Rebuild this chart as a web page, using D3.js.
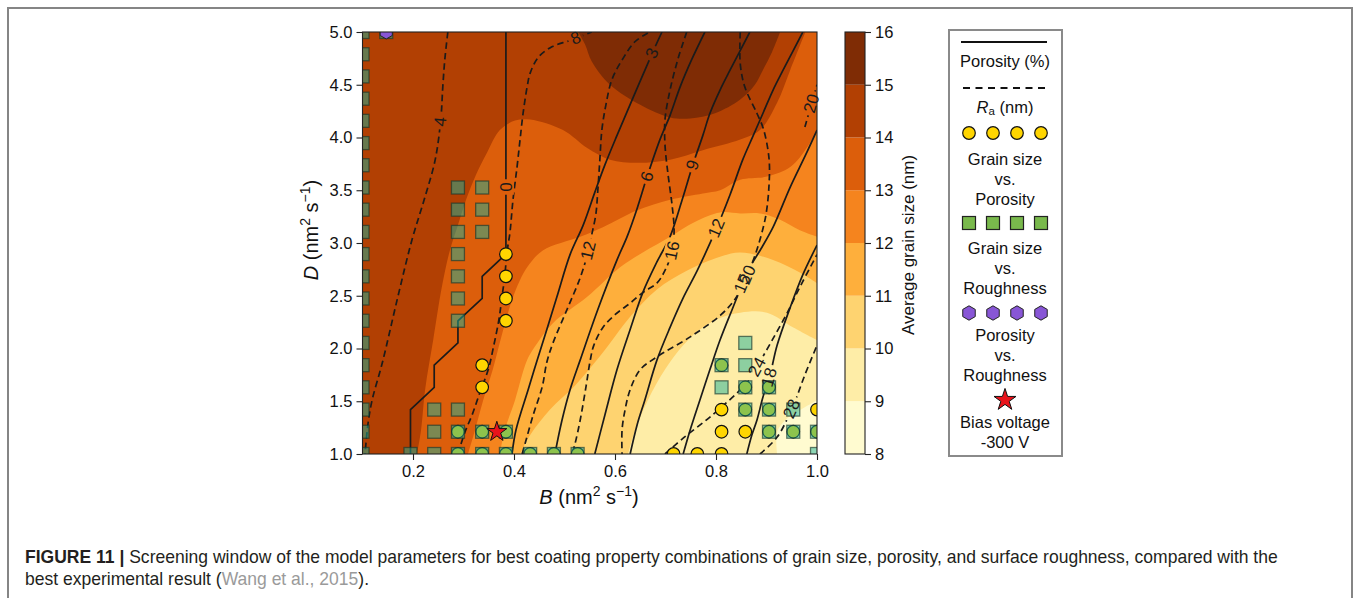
<!DOCTYPE html>
<html><head><meta charset="utf-8">
<script src="https://cdn.jsdelivr.net/npm/d3@7"></script>
<style>
body{margin:0;background:#fff;}
svg{display:block;}
text{font-family:"Liberation Sans",Arial,Helvetica,sans-serif;}
</style>
</head><body>
<svg id="chart" width="1354" height="598"></svg>
<script>
// ---------------- DATA ----------------
const xTicks = [0.2, 0.4, 0.6, 0.8, 1.0];
const yTicks = [1.0, 1.5, 2.0, 2.5, 3.0, 3.5, 4.0, 4.5, 5.0];
const grainLevels = [8, 9, 10, 11, 12, 13, 14, 15, 16];
const grainColors = ["#FFFBD0", "#FEEDA7", "#FED370", "#FEAF3C", "#F5841E", "#DC5E0B", "#B24003", "#7F2C05"];

// boundaries of the filled grain-size regions (value >= level lies to the upper-left)
const grain9  = [[0.921,1.0],[0.921,1.21],[0.937,1.32],[0.961,1.40],[1.0,1.51]];
const grain10 = [[0.626,1.0],[0.640,1.23],[0.665,1.51],[0.699,1.80],[0.735,2.03],[0.768,2.18],[0.808,2.29],[0.848,2.34],[0.901,2.34],[0.953,2.20],[1.0,2.08]];
const grain11 = [[0.412,1.0],[0.432,1.18],[0.471,1.42],[0.521,1.65],[0.564,1.89],[0.590,2.05],[0.630,2.30],[0.683,2.56],[0.743,2.74],[0.808,2.87],[0.848,2.91],[0.913,2.84],[0.966,2.72],[1.0,2.62]];
const grain12 = [[0.372,1.0],[0.382,1.23],[0.402,1.51],[0.426,1.89],[0.446,2.05],[0.477,2.24],[0.545,2.49],[0.610,2.77],[0.655,2.91],[0.709,3.06],[0.758,3.20],[0.808,3.29],[0.848,3.28],[0.887,3.28],[0.927,3.22],[0.966,3.12],[1.0,3.06]];
const grain13 = [[0.309,1.0],[0.323,1.23],[0.339,1.51],[0.358,1.80],[0.376,2.13],[0.396,2.46],[0.412,2.65],[0.426,2.77],[0.457,2.93],[0.531,3.06],[0.576,3.15],[0.644,3.31],[0.709,3.41],[0.774,3.47],[0.808,3.50],[0.848,3.60],[0.901,3.63],[0.947,3.72],[0.981,3.91],[1.0,4.07]];
const grain14 = [[0.208,1.0],[0.216,1.23],[0.224,1.61],[0.240,2.08],[0.257,2.58],[0.273,2.93],[0.289,3.17],[0.305,3.41],[0.325,3.65],[0.347,3.86],[0.372,4.07],[0.402,4.16],[0.432,4.17],[0.497,4.07],[0.545,3.90],[0.590,3.79],[0.644,3.76],[0.709,3.79],[0.774,3.88],[0.848,3.98],[0.887,4.07],[0.921,4.33],[0.947,4.64],[0.977,5.0]];
const grain15 = [[0.527,5.0],[0.541,4.88],[0.554,4.72],[0.590,4.50],[0.650,4.31],[0.709,4.19],[0.749,4.18],[0.798,4.23],[0.848,4.36],[0.877,4.50],[0.893,4.64],[0.911,4.81],[0.927,5.0]];

// porosity (%) contour lines (solid)
const porosity0  = [[0.384,5.0],[0.384,2.895],[0.337,2.684],[0.337,2.474],[0.289,2.263],[0.289,2.053],[0.242,1.842],[0.242,1.632],[0.195,1.421],[0.195,1.0]];
const porosity3  = [[0.396,1.0],[0.404,1.23],[0.428,1.61],[0.446,1.89],[0.465,2.18],[0.485,2.49],[0.511,2.89],[0.537,3.17],[0.560,3.48],[0.580,3.74],[0.604,4.02],[0.636,4.38],[0.673,4.79],[0.693,5.0]];
const porosity6  = [[0.481,1.0],[0.495,1.32],[0.511,1.61],[0.531,1.89],[0.566,2.37],[0.604,2.84],[0.624,3.06],[0.644,3.33],[0.663,3.62],[0.689,3.98],[0.709,4.21],[0.729,4.48],[0.752,4.74],[0.778,5.0]];
const porosity9  = [[0.560,1.0],[0.580,1.37],[0.604,1.80],[0.630,2.18],[0.655,2.53],[0.683,2.82],[0.709,3.06],[0.733,3.41],[0.754,3.74],[0.774,4.02],[0.788,4.23],[0.808,4.45],[0.828,4.64],[0.867,5.0]];
const porosity12 = [[0.630,1.0],[0.644,1.28],[0.659,1.51],[0.683,1.89],[0.709,2.20],[0.735,2.48],[0.763,2.74],[0.802,3.15],[0.828,3.46],[0.853,3.79],[0.873,4.01],[0.893,4.23],[0.913,4.45],[0.933,4.64],[0.972,5.0]];
const porosity15 = [[0.735,1.0],[0.749,1.23],[0.768,1.51],[0.788,1.80],[0.808,2.08],[0.832,2.37],[0.853,2.62],[0.867,2.77],[0.891,2.96],[0.913,3.15],[0.947,3.53],[0.977,3.83],[1.0,4.07]];
const porosity18 = [[0.861,1.0],[0.871,1.18],[0.881,1.32],[0.893,1.54],[0.907,1.75],[0.921,2.03],[0.947,2.39],[0.972,2.70],[1.0,2.98]];
const porosityValues = [0, 3, 6, 9, 12, 15, 18];
const porosityLabelAt = [[0.386,3.53],[0.673,4.80],[0.665,3.63],[0.754,3.74],[0.802,3.14],[0.851,2.62],[0.911,1.72]];

// Ra (nm) contour lines (dashed)
const ra4   = [[0.269,5.0],[0.263,4.74],[0.259,4.48],[0.255,4.17],[0.244,3.79],[0.224,3.44],[0.198,3.03],[0.170,2.49],[0.139,1.86],[0.119,1.51],[0.111,1.29],[0.105,1.0]];
const ra8   = [[0.289,1.0],[0.303,1.21],[0.317,1.37],[0.333,1.59],[0.349,1.80],[0.360,2.03],[0.370,2.27],[0.376,2.48],[0.382,2.70],[0.386,2.91],[0.392,3.10],[0.398,3.41],[0.406,3.72],[0.412,3.98],[0.418,4.23],[0.426,4.48],[0.432,4.61],[0.448,4.76],[0.475,4.86],[0.511,4.92],[0.554,5.0]];
const ra12  = [[0.416,1.0],[0.422,1.10],[0.438,1.37],[0.456,1.64],[0.465,1.87],[0.477,2.05],[0.505,2.37],[0.531,2.67],[0.547,2.92],[0.554,3.08],[0.562,3.27],[0.566,3.50],[0.570,3.79],[0.574,4.07],[0.582,4.31],[0.594,4.55],[0.616,4.75],[0.640,4.91],[0.669,5.0]];
const ra16  = [[0.742,5.0],[0.725,4.75],[0.709,4.45],[0.699,4.17],[0.699,3.93],[0.705,3.65],[0.713,3.36],[0.717,3.12],[0.713,2.92],[0.699,2.74],[0.683,2.62],[0.655,2.53],[0.630,2.43],[0.600,2.32],[0.576,2.20],[0.558,2.03],[0.551,1.89],[0.543,1.65],[0.531,1.32],[0.521,1.10],[0.515,1.0]];
const ra20  = [[0.848,5.0],[0.848,4.70],[0.857,4.48],[0.881,4.23],[0.894,4.08],[0.905,3.80],[0.905,3.55],[0.899,3.27],[0.887,3.03],[0.871,2.80],[0.855,2.62],[0.838,2.47],[0.810,2.32],[0.749,2.11],[0.683,1.92],[0.650,1.80],[0.630,1.61],[0.620,1.42],[0.614,1.23],[0.614,1.0]];
const ra20b = [[0.976,4.10],[0.988,4.30],[1.0,4.50]];
const ra24  = [[0.699,1.0],[0.735,1.15],[0.788,1.35],[0.844,1.59],[0.869,1.72],[0.883,1.84],[0.909,2.06],[0.939,2.32],[0.968,2.60],[1.0,2.89]];
const ra28  = [[0.887,1.0],[0.921,1.16],[0.953,1.46],[0.976,1.75],[1.0,2.03]];
const raValues = [4, 8, 12, 16, 20, 20, 24, 28];
const raLabelAt = [[0.255,4.15],[0.523,4.93],[0.547,2.93],[0.713,2.93],[0.861,2.70],[0.990,4.32],[0.883,1.82],[0.953,1.42]];

// screening points on the simulation grid (indices into gridB / gridD)
const gridB = [0.100,0.147,0.195,0.242,0.289,0.337,0.384,0.432,0.479,0.526,0.574,0.621,0.668,0.716,0.763,0.811,0.858,0.905,0.953,1.000];
const gridD = [1.000,1.211,1.421,1.632,1.842,2.053,2.263,2.474,2.684,2.895,3.105,3.316,3.526,3.737,3.947,4.158,4.368,4.579,4.789,5.000];
const grainPorosityPts = [[6,9],[6,8],[6,7],[6,6],[5,4],[5,3],[4,1],[5,1],[6,1],[4,0],[5,0],[6,0],[7,0],[8,0],[9,0],
  [15,4],[16,3],[17,3],[15,2],[16,2],[17,2],[19,2],[15,1],[16,1],[17,1],[18,1],[19,1],[13,0],[14,0],[15,0]];
const grainRoughnessPts = [[0,0],[0,1],[0,2],[0,3],[0,4],[0,5],[0,6],[0,7],[0,8],[0,9],[0,10],[0,11],[0,12],[0,13],[0,14],[0,15],[0,16],[0,17],[0,18],[0,19],
  [1,19],[4,12],[5,12],[4,11],[5,11],[4,10],[5,10],[4,9],[4,8],[4,7],[4,6],[3,2],[4,2],[3,1],[4,1],[5,1],[6,1],
  [2,0],[3,0],[4,0],[5,0],[6,0],[7,0],[8,0],[9,0],
  [16,5],[15,4],[16,4],[15,3],[16,3],[17,3],[16,2],[17,2],[18,2],[17,1],[18,1],[19,1],[19,0]];
const porosityRoughnessPts = [[1,19]];
const biasVoltage = [0.366, 1.21];

const legendLabels = ["Porosity (%)", "Grain size", "vs.", "Porosity", "Grain size", "vs.", "Roughness", "Porosity", "vs.", "Roughness", "Bias voltage", "-300 V"];

// ---------------- DRAW ----------------
const svg = d3.select("#chart");
const defs = svg.append("defs");
const x = d3.scaleLinear().domain([0.1, 1.0]).range([362.5, 817]);
const y = d3.scaleLinear().domain([1.0, 5.0]).range([454, 32]);
const P = {l: 362.5, r: 817, t: 32, b: 454};
const font = '"Liberation Sans",Arial,Helvetica,sans-serif';

// outer frame
svg.append("path").attr("d", "M8,600V8H1352V600").attr("fill", "none").attr("stroke", "#858585").attr("stroke-width", 2);

defs.append("clipPath").attr("id", "plotClip").append("rect")
  .attr("x", P.l).attr("y", P.t).attr("width", P.r - P.l).attr("height", P.b - P.t);

const plot = svg.append("g").attr("clip-path", "url(#plotClip)");

// filled grain size contours
plot.append("rect").attr("x", P.l).attr("y", P.t).attr("width", P.r - P.l).attr("height", P.b - P.t).attr("fill", grainColors[0]);
const smooth = d3.line().x(d => x(d[0])).y(d => y(d[1])).curve(d3.curveCatmullRom.alpha(0.5));
const straight = d3.line().x(d => x(d[0])).y(d => y(d[1]));
const grainBoundaries = [grain9, grain10, grain11, grain12, grain13, grain14, grain15];
grainBoundaries.forEach((b, k) => {
  let s = smooth(b);
  const first = b[0], last = b[b.length - 1];
  if (first[1] === 5.0 && last[1] === 5.0) {
    s += "Z";
  } else {
    if (last[0] >= 1.0) s += `L${x(1.0)},${y(5.0)}`;
    s += `L${x(0.1)},${y(5.0)}L${x(0.1)},${y(1.0)}Z`;
  }
  plot.append("path").attr("d", s).attr("fill", grainColors[k + 1]).attr("stroke", "none");
});

// contour lines with label gaps
const mask = defs.append("mask").attr("id", "lblMask").attr("maskUnits", "userSpaceOnUse")
  .attr("x", 0).attr("y", 0).attr("width", 1354).attr("height", 598);
mask.append("rect").attr("x", 0).attr("y", 0).attr("width", 1354).attr("height", 598).attr("fill", "#fff");
const lineG = plot.append("g").attr("mask", "url(#lblMask)");
const labelG = svg.append("g");

const porosityLines = [porosity0, porosity3, porosity6, porosity9, porosity12, porosity15, porosity18];
const raLines = [ra4, ra8, ra12, ra16, ra20, ra20b, ra24, ra28];

function drawContour(pts, dashed, lin, value, at) {
  const path = lineG.append("path")
    .attr("d", (lin ? straight : smooth)(pts))
    .attr("fill", "none").attr("stroke", "#1b1b1b").attr("stroke-width", 1.7)
    .attr("stroke-dasharray", dashed ? "6.5,4" : null);
  const node = path.node();
  const L = node.getTotalLength();
  const tx = x(at[0]), ty = y(at[1]);
  let best = 0, bd = Infinity;
  for (let l = 0; l <= L; l += 0.5) {
    const p = node.getPointAtLength(l);
    const d = (p.x - tx) ** 2 + (p.y - ty) ** 2;
    if (d < bd) { bd = d; best = l; }
  }
  const p = node.getPointAtLength(best);
  const p1 = node.getPointAtLength(Math.max(0, best - 6));
  const p2 = node.getPointAtLength(Math.min(L, best + 6));
  let ang = Math.atan2(p2.y - p1.y, p2.x - p1.x) * 180 / Math.PI;
  if (ang > 90) ang -= 180;
  if (ang <= -90) ang += 180;
  const t = labelG.append("text")
    .attr("transform", `translate(${p.x},${p.y}) rotate(${ang})`)
    .attr("text-anchor", "middle").attr("dominant-baseline", "central")
    .attr("font-size", 17).attr("fill", "#1b1b1b").text(value);
  const w = t.node().getComputedTextLength() + 6;
  mask.append("rect").attr("x", -w / 2).attr("y", -8).attr("width", w).attr("height", 16)
    .attr("transform", `translate(${p.x},${p.y}) rotate(${ang})`).attr("fill", "#000");
}
porosityLines.forEach((l, i) => drawContour(l, false, i === 0, porosityValues[i], porosityLabelAt[i]));
raLines.forEach((l, i) => drawContour(l, true, false, raValues[i], raLabelAt[i]));

// markers
const markG = plot.append("g");
const circleFill = "#FFD500", squareFill = "rgba(28,177,153,0.5)", squareStroke = "rgba(25,55,45,0.65)";
markG.selectAll("circle.gp").data(grainPorosityPts).join("circle").attr("class", "gp")
  .attr("cx", d => x(gridB[d[0]])).attr("cy", d => y(gridD[d[1]])).attr("r", 6.3)
  .attr("fill", circleFill).attr("stroke", "#111").attr("stroke-width", 1.2);
markG.selectAll("rect.gr").data(grainRoughnessPts).join("rect").attr("class", "gr")
  .attr("x", d => x(gridB[d[0]]) - 6.5).attr("y", d => y(gridD[d[1]]) - 6.5).attr("width", 13).attr("height", 13)
  .attr("fill", squareFill).attr("stroke", squareStroke).attr("stroke-width", 1.3);
function hexPath(cx, cy, r) {
  const pts = d3.range(6).map(k => { const a = (-90 + 60 * k) * Math.PI / 180; return [cx + r * Math.cos(a), cy + r * Math.sin(a)]; });
  return "M" + pts.map(p => p.join(",")).join("L") + "Z";
}
markG.selectAll("path.pr").data(porosityRoughnessPts).join("path").attr("class", "pr")
  .attr("d", d => hexPath(x(gridB[d[0]]), y(gridD[d[1]]), 7))
  .attr("fill", "#8856D6").attr("stroke", "#222").attr("stroke-width", 1);

// star
svg.append("path").attr("d", d3.symbol(d3.symbolStar, 125)())
  .attr("transform", `translate(${x(biasVoltage[0])},${y(biasVoltage[1])})`)
  .attr("fill", "#E8131B").attr("stroke", "#111").attr("stroke-width", 1);

// frame
svg.append("rect").attr("x", P.l).attr("y", P.t).attr("width", P.r - P.l).attr("height", P.b - P.t)
  .attr("fill", "none").attr("stroke", "#222").attr("stroke-width", 1.1);

// axes
const xAxis = svg.append("g").attr("transform", `translate(0,${P.b})`)
  .call(d3.axisBottom(x).tickValues(xTicks).tickFormat(d3.format(".1f")).tickSize(6).tickPadding(5));
const yAxis = svg.append("g").attr("transform", `translate(${P.l},0)`)
  .call(d3.axisLeft(y).tickValues(yTicks).tickFormat(d3.format(".1f")).tickSize(6).tickPadding(4));
[xAxis, yAxis].forEach(a => {
  a.select(".domain").remove();
  a.selectAll("line").attr("stroke", "#222").attr("stroke-width", 1.1);
  a.selectAll("text").attr("font-size", 16.5).attr("fill", "#111").attr("font-family", font);
});

// axis titles
function sciTitle(g, letter) {
  const t = g.append("text").attr("text-anchor", "middle").attr("font-size", 20).attr("fill", "#111");
  t.append("tspan").attr("font-style", "italic").text(letter);
  t.append("tspan").text(" (nm");
  t.append("tspan").attr("font-size", 14).attr("dy", -8).text("2");
  t.append("tspan").attr("dy", 8).text(" s");
  t.append("tspan").attr("font-size", 14).attr("dy", -8).text("\u22121");
  t.append("tspan").attr("dy", 8).text(")");
  return t;
}
sciTitle(svg.append("g").attr("transform", "translate(589,504)"), "B");
sciTitle(svg.append("g").attr("transform", "translate(318,230) rotate(-90)"), "D");

// colorbar
const cb = {x: 845, w: 20};
const cy = d3.scaleLinear().domain([8, 16]).range([454, 32]);
grainColors.forEach((c, i) => {
  svg.append("rect").attr("x", cb.x).attr("y", cy(grainLevels[i + 1])).attr("width", cb.w)
    .attr("height", cy(grainLevels[i]) - cy(grainLevels[i + 1])).attr("fill", c);
});
svg.append("rect").attr("x", cb.x).attr("y", 32).attr("width", cb.w).attr("height", 422)
  .attr("fill", "none").attr("stroke", "#222").attr("stroke-width", 1.1);
const cAxis = svg.append("g").attr("transform", `translate(${cb.x + cb.w},0)`)
  .call(d3.axisRight(cy).tickValues(grainLevels).tickFormat(d3.format("d")).tickSize(6).tickPadding(4));
cAxis.select(".domain").remove();
cAxis.selectAll("line").attr("stroke", "#222").attr("stroke-width", 1.1);
cAxis.selectAll("text").attr("font-size", 16.5).attr("fill", "#111").attr("font-family", font);
svg.append("text").attr("transform", "translate(908,245) rotate(-90)").attr("text-anchor", "middle")
  .attr("dominant-baseline", "central").attr("font-size", 17).attr("fill", "#111").text("Average grain size (nm)");

// legend
const lg = svg.append("g");
lg.append("rect").attr("x", 949).attr("y", 30).attr("width", 113).attr("height", 426)
  .attr("fill", "#fff").attr("stroke", "#8a8a8a").attr("stroke-width", 2);
const lcx = 1005;
lg.append("line").attr("x1", 961).attr("x2", 1047).attr("y1", 42).attr("y2", 42).attr("stroke", "#111").attr("stroke-width", 2);
lg.append("line").attr("x1", 963).attr("x2", 1049).attr("y1", 88).attr("y2", 88).attr("stroke", "#111").attr("stroke-width", 2).attr("stroke-dasharray", "7,5.5");
function ltext(s, yy) {
  return lg.append("text").attr("x", lcx).attr("y", yy).attr("text-anchor", "middle").attr("dominant-baseline", "central")
    .attr("font-size", 16.5).attr("fill", "#111").text(s);
}
ltext(legendLabels[0], 61);
const ra = lg.append("text").attr("x", lcx).attr("y", 107).attr("text-anchor", "middle").attr("dominant-baseline", "central").attr("font-size", 16.5).attr("fill", "#111");
ra.append("tspan").attr("font-style", "italic").text("R");
ra.append("tspan").attr("font-size", 11.5).attr("dy", 4).text("a");
ra.append("tspan").attr("dy", -4).text(" (nm)");
const lxs = [969, 993, 1017, 1041];
lxs.forEach(lx => {
  lg.append("circle").attr("cx", lx).attr("cy", 133).attr("r", 6.3).attr("fill", circleFill).attr("stroke", "#111").attr("stroke-width", 1.2);
  lg.append("rect").attr("x", lx - 6.5).attr("y", 223 - 6.5).attr("width", 13).attr("height", 13).attr("fill", "#79B94C").attr("stroke", "#222").attr("stroke-width", 1.2);
  lg.append("path").attr("d", hexPath(lx, 313, 7.2)).attr("fill", "#8856D6").attr("stroke", "#222").attr("stroke-width", 1);
});
ltext(legendLabels[1], 159); ltext(legendLabels[2], 179); ltext(legendLabels[3], 199);
ltext(legendLabels[4], 248); ltext(legendLabels[5], 268); ltext(legendLabels[6], 288);
ltext(legendLabels[7], 335); ltext(legendLabels[8], 355); ltext(legendLabels[9], 375);
lg.append("path").attr("d", d3.symbol(d3.symbolStar, 150)()).attr("transform", `translate(${lcx},400)`)
  .attr("fill", "#E8131B").attr("stroke", "#111").attr("stroke-width", 1);
ltext(legendLabels[10], 422); ltext(legendLabels[11], 442);

// caption
const cap1 = svg.append("text").attr("x", 25).attr("y", 563).attr("font-size", 16).attr("fill", "#231f20");
cap1.append("tspan").attr("font-weight", "bold").text("FIGURE 11 | ");
cap1.append("tspan").text("Screening window of the model parameters for best coating property combinations of grain size, porosity, and surface roughness, compared with the");
const cap2 = svg.append("text").attr("x", 25).attr("y", 585).attr("font-size", 16).attr("fill", "#231f20");
cap2.append("tspan").text("best experimental result (");
cap2.append("tspan").attr("fill", "#9a9a9a").text("Wang et al., 2015");
cap2.append("tspan").text(").");
const w1 = cap1.node().getComputedTextLength();
const fs = 16 * 1254 / w1;
cap1.attr("font-size", fs); cap2.attr("font-size", fs);
</script>
</body></html>
